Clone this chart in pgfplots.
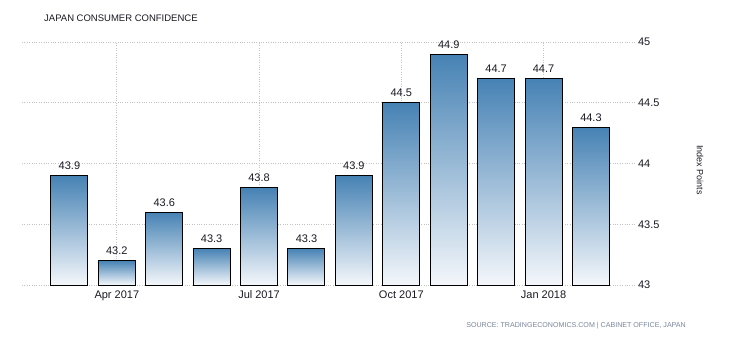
\documentclass[border=0pt]{standalone}
\usepackage{pgfplots}
\pgfplotsset{compat=1.18}
\usepackage{fontspec}
\setmainfont{Liberation Sans}
\definecolor{barblue}{RGB}{70,130,180}
\definecolor{barlight}{RGB}{244,247,251}
\definecolor{gridgray}{RGB}{195,195,195}
\definecolor{srcgray}{RGB}{120,132,155}
\definecolor{txt}{RGB}{25,25,35}
\begin{document}
\begin{tikzpicture}[x=1bp,y=1bp]
\path (0,0) rectangle (730,340);
\begin{axis}[
  at={(22bp,55bp)}, anchor=south west,
  scale only axis, width=614bp, height=243bp,
  xmin=-1, xmax=11.95, ymin=43, ymax=45,
  axis line style={draw=none},
  ybar, bar width=37bp, bar shift=0pt,
  xtick={1,4,7,10},
  xticklabels={Apr 2017,Jul 2017,Oct 2017,Jan 2018},
  ytick={43,43.5,44,44.5,45},
  yticklabel pos=right,
  grid=major,
  grid style={gridgray, dotted, line width=0.8bp},
  major tick length=0pt,
  /pgf/number format/assume math mode=true,
  tick label style={font=\fontsize{11bp}{13bp}\selectfont, text=txt},
  yticklabel style={xshift=-1.5bp},
  xticklabel style={yshift=-2.5bp},
  nodes near coords,
  point meta=explicit symbolic,
  every node near coord/.append style={font=\fontsize{11bp}{13bp}\selectfont, text=txt, yshift=2bp},
  bb/.style={draw=black, line width=1bp, top color=barblue, bottom color=barlight},
]
\addplot[bb] coordinates {(0,43.9) [43.9]};
\addplot[bb] coordinates {(1,43.2) [43.2]};
\addplot[bb] coordinates {(2,43.6) [43.6]};
\addplot[bb] coordinates {(3,43.3) [43.3]};
\addplot[bb] coordinates {(4,43.8) [43.8]};
\addplot[bb] coordinates {(5,43.3) [43.3]};
\addplot[bb] coordinates {(6,43.9) [43.9]};
\addplot[bb] coordinates {(7,44.5) [44.5]};
\addplot[bb] coordinates {(8,44.9) [44.9]};
\addplot[bb] coordinates {(9,44.7) [44.7]};
\addplot[bb] coordinates {(10,44.7) [44.7]};
\addplot[bb] coordinates {(11,44.3) [44.3]};
\end{axis}
\node[anchor=west, font=\fontsize{9.5bp}{12bp}\selectfont, text=txt, inner sep=0pt] at (44,322) {JAPAN CONSUMER CONFIDENCE};
\node[rotate=-90, font=\fontsize{9bp}{11bp}\selectfont, text=txt, inner sep=0pt] at (700,170) {Index Points};
\node[anchor=east, font=\fontsize{7.1bp}{9bp}\selectfont, text=srcgray, inner sep=0pt] at (686,14) {SOURCE: TRADINGECONOMICS.COM | CABINET OFFICE, JAPAN};
\pgfresetboundingbox
\path[use as bounding box] (0,0) rectangle (730,340);
\end{tikzpicture}
\end{document}
